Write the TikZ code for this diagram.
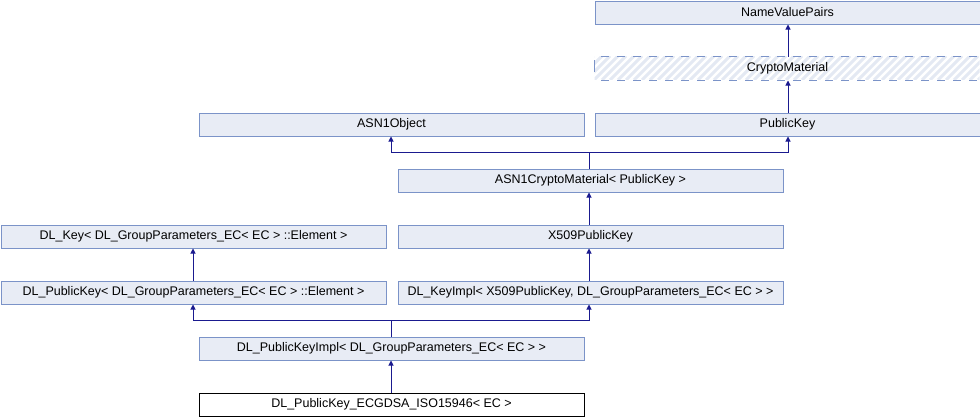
\documentclass[tikz,border=0pt]{standalone}
\usepackage{fontspec}
\setmainfont{Liberation Sans}
\usetikzlibrary{arrows.meta}
\definecolor{boxfill}{HTML}{E8ECF5}
\definecolor{boxdraw}{HTML}{7B93C8}
\definecolor{edge}{HTML}{1A1A8F}
\definecolor{hatch}{HTML}{E4E9F3}
\tikzset{
  cls/.style={draw=boxdraw, fill=boxfill, line width=1pt, minimum width=385pt, minimum height=23pt, inner sep=0pt, anchor=north west, font=\fontsize{12.5pt}{14pt}\selectfont},
  leaf/.style={cls, draw=black, fill=white},
  virt/.style={cls, draw=none, fill=none},
  vborder/.style={draw=boxdraw, line width=1pt},
  inh/.style={draw=edge, line width=1pt, -{Triangle[width=5pt,length=5pt]}},
}
\begin{document}
\begin{tikzpicture}[x=1pt,y=-1pt]
\useasboundingbox (0,0) rectangle (980,416);
% hatch for CryptoMaterial
\begin{scope}
\clip (594.5,56.5) rectangle (979.5,79.5);
\foreach \i in {0,...,52} {
  \draw[hatch, line width=3pt] ({570+8*\i},80) -- ({570+8*\i+24},56);
}
\end{scope}
\node[cls]  (nvp)  at (594.5,0.5)   {NameValuePairs};
\node[virt] (cm)   at (594.5,56.5)  {CryptoMaterial};
\draw[vborder, dash pattern=on 8pt off 8pt, dash phase=9.5pt] (cm.north west) -- (cm.north east);
\draw[vborder, dash pattern=on 8pt off 8pt, dash phase=9.5pt] (cm.south west) -- (cm.south east);
\draw[vborder] ([yshift=-3.5pt]cm.north west) -- ([yshift=-15.5pt]cm.north west);
\draw[vborder] ([yshift=-3.5pt]cm.north east) -- ([yshift=-15.5pt]cm.north east);
\node[cls]  (pk)   at (594.5,112.5) {PublicKey};
\node[cls]  (asn)  at (198.5,112.5) {ASN1Object};
\node[cls]  (acm)  at (397.5,168.5) {ASN1CryptoMaterial< PublicKey >};
\node[cls]  (dlk)  at (0.5,224.5)   {DL\_Key< DL\_GroupParameters\_EC< EC > ::Element >};
\node[cls]  (x509) at (397.5,224.5) {X509PublicKey};
\node[cls]  (dlpk) at (0.5,280.5)   {DL\_PublicKey< DL\_GroupParameters\_EC< EC > ::Element >};
\node[cls]  (ki)   at (397.5,280.5) {DL\_KeyImpl< X509PublicKey, DL\_GroupParameters\_EC< EC > >};
\node[cls]  (pki)  at (198.5,336.5) {DL\_PublicKeyImpl< DL\_GroupParameters\_EC< EC > >};
\node[leaf] (ecg)  at (198.5,392.5) {DL\_PublicKey\_ECGDSA\_ISO15946< EC >};
% edges
\draw[inh] (cm.north -| 788,0) -- (nvp.south -| 788,0);
\draw[inh] (pk.north -| 788,0) -- (cm.south -| 788,0);
\coordinate (j1) at (589,152);
\draw[draw=edge, line width=1pt] (acm.north -| j1) -- (j1);
\draw[inh] (j1) -| (asn.south -| 391,0);
\draw[inh] (j1) -| (pk.south -| 788,0);
\draw[inh] (x509.north -| 589,0) -- (acm.south -| 589,0);
\draw[inh] (dlpk.north -| 193,0) -- (dlk.south -| 193,0);
\draw[inh] (ki.north -| 589,0) -- (x509.south -| 589,0);
\coordinate (j2) at (391,320);
\draw[draw=edge, line width=1pt] (pki.north -| j2) -- (j2);
\draw[inh] (j2) -| (dlpk.south -| 193,0);
\draw[inh] (j2) -| (ki.south -| 589,0);
\draw[inh] (ecg.north -| 391,0) -- (pki.south -| 391,0);
\end{tikzpicture}
\end{document}
